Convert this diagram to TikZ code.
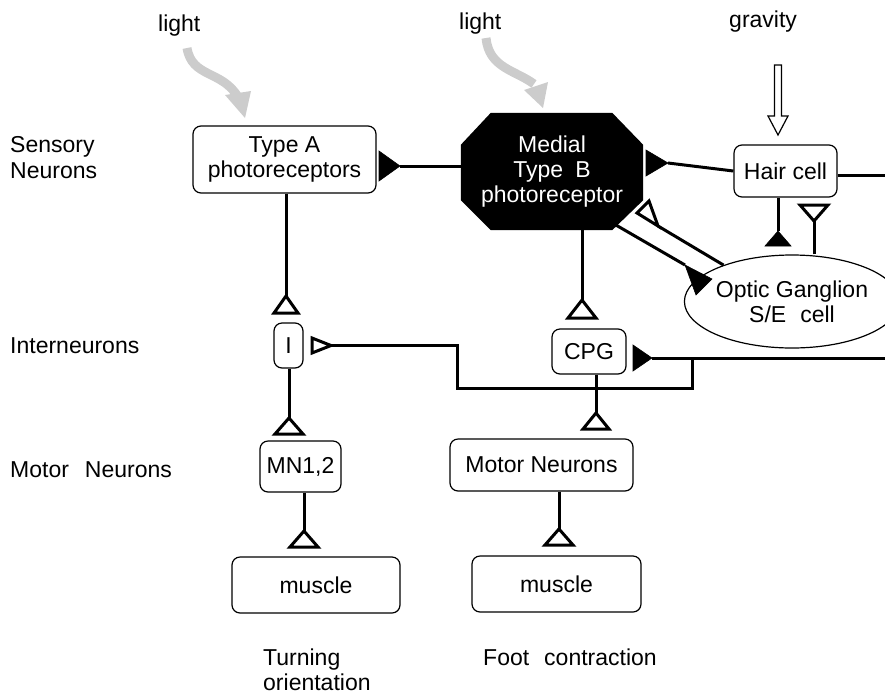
\documentclass[tikz,border=0pt]{standalone}
\usepackage{fontspec}
\setmainfont{Liberation Sans}
\usetikzlibrary{calc,backgrounds,shapes.geometric}
\newcommand\labfont{\fontsize{23pt}{25pt}\selectfont}
\tikzset{
  lbl/.style={font=\labfont, inner sep=0pt, anchor=base west},
  box/.style={draw, rounded corners=8pt, line width=1.2pt, inner sep=0pt, align=center, font=\labfont},
  conn/.style={line width=3pt},
  syn/.style={line width=3pt, line join=miter, fill=white},
  synf/.style={fill=black, draw=black, line width=0.6pt, line join=miter},
  lightband/.style={draw=gray!40, line width=9pt},
  lighthead/.style={fill=gray!40},
}
\begin{document}
\begin{tikzpicture}[x=1pt,y=-1pt]
\useasboundingbox (0,0) rectangle (885,694);

% ---- labels ----
\node[lbl] (light1) at (158,31) {light};
\node[lbl] (light2) at (459,29) {light};
\node[lbl] (grav) at (729,27.5) {gravity};
\node[lbl] (sens1) at (10,152) {Sensory};
\node[lbl] (sens2) at (10,178) {Neurons};
\node[lbl] (inter) at (10,353) {Interneurons};
\node[lbl] (motor) at (10,477) {Motor\hspace{16pt}Neurons};
\node[lbl] (turn1) at (263,665) {Turning};
\node[lbl] (turn2) at (263,690) {orientation};
\node[lbl] (foot) at (483,665) {Foot\hspace{15pt}contraction};

% ---- nodes ----
\node[box, minimum width=183pt, minimum height=67pt] (typeA) at (284.5,159.5) {Type A\\photoreceptors};
\node[inner sep=0pt, minimum width=182pt, minimum height=117pt, text=white, align=center, font=\labfont] (B) at (552,171.5) {Medial\\Type\hspace{12pt}B\\photoreceptor};
\begin{scope}[on background layer]
\fill[black] ($(B.north west)+(30,0)$) -- ($(B.north east)+(-31,0)$) -- ($(B.north east)+(0,32)$)
  -- ($(B.south east)+(0,-30)$) -- ($(B.south east)+(-31,0)$) -- ($(B.south west)+(30,0)$)
  -- ($(B.south west)+(0,-30)$) -- ($(B.north west)+(0,32)$) -- cycle;
\end{scope}
\node[box, minimum width=103pt, minimum height=52pt] (hair) at (785.5,171) {Hair cell};
\node[draw, ellipse, line width=1.2pt, inner sep=0pt, minimum width=170pt, minimum height=93pt, align=center, font=\labfont] (OG) at (792,301.5) {Optic Ganglion\\S/E\hspace{14pt}cell};
\node[box, minimum width=29pt, minimum height=45pt] (I) at (288.5,345.5) {I};
\node[box, minimum width=74pt, minimum height=45pt] (CPG) at (589,351.5) {CPG};
\node[box, minimum width=81pt, minimum height=51pt] (MN12) at (300.5,466.5) {MN1,2};
\node[box, minimum width=183pt, minimum height=52pt] (MN) at (541.5,465) {Motor Neurons};
\node[box, minimum width=168pt, minimum height=56pt] (mus1) at (316,585) {muscle};
\node[box, minimum width=169pt, minimum height=56pt] (mus2) at (556.5,584) {muscle};

% ---- light arrows ----
\coordinate (l1s) at (187,48);
\coordinate (l1e) at (238,97);
\draw[lightband] (l1s) .. controls (192,78) and (222,70) .. (l1e);
\fill[lighthead] (225,95) -- (251,91) -- (245,118) -- cycle;
\coordinate (l2s) at (486,38);
\coordinate (l2e) at (534,84);
\draw[lightband] (l2s) .. controls (489,68) and (515,70) .. (l2e);
\fill[lighthead] (524,90) -- (548,82) -- (543,108) -- cycle;

% ---- gravity arrow ----
\coordinate (gTip) at (778,135);
\draw[line width=1.2pt, fill=white] (gTip) -- ++(-10,-19) -- ++(6.5,0) -- ++(0,-51) -- ++(7,0)
  -- ++(0,51) -- ++(6.5,0) -- cycle;

% ---- B -> Type A (filled) ----
\coordinate (sA) at (400,166);
\draw[conn] (B.west |- sA) -- (sA);
\filldraw[synf] (sA) -- ++(-21,-15) -- ++(0,30) -- cycle;

% ---- B -> hair (filled) ----
\coordinate (pBH) at (668,163);
\draw[conn] (pBH) -- (hair.west);
\filldraw[synf] (pBH) -- ++(-22,-13) -- ++(0,26) -- cycle;

% ---- hair -> right edge ----
\coordinate (eH) at (885,175);
\draw[conn] ([yshift=-4pt]hair.east) -- (eH);

% ---- hair -> OG (filled) ----
\coordinate (pHO) at (778,231);
\draw[conn] (hair.south -| pHO) -- (pHO);
\filldraw[synf] (pHO) -- ++(-13,15) -- ++(26,0) -- cycle;

% ---- OG -> hair (open) ----
\coordinate (pOH) at (814,221);
\draw[conn] (pOH |- OG.north) -- (pOH);
\draw[syn] (pOH) -- ++(-14,-16) -- ++(28,0) -- cycle;

% ---- B -> OG (filled) ----
\coordinate (pBO) at (685,265);
\draw[conn] ($(B.south east)+(-27,-5)$) -- (pBO);
\filldraw[synf] (pBO) -- ++(27,14) -- ++(-16,16) -- cycle;

% ---- OG -> B (open) ----
\coordinate (pOB) at (658,226);
\draw[conn] (OG.152) -- (pOB);
\draw[syn] (pOB) -- (637,213) -- (649,201) -- cycle;

% ---- Type A -> I (open) ----
\coordinate (pAI) at (286,296);
\draw[conn] (typeA.south -| pAI) -- (pAI);
\draw[syn] (pAI) -- ++(-12,17) -- ++(24,0) -- cycle;

% ---- B -> CPG (open) ----
\coordinate (pBC) at (582,300);
\draw[conn] (B.south -| pBC) -- (pBC);
\draw[syn] (pBC) -- ++(-14,18) -- ++(28,0) -- cycle;

% ---- right edge -> CPG (filled) and -> I (open) ----
\coordinate (eC) at (885,358);
\coordinate (pCPG) at (652,358);
\draw[conn] (eC) -- (pCPG);
\filldraw[synf] (pCPG) -- ++(-19,-13) -- ++(0,26) -- cycle;
\coordinate (j1) at (692,358);
\coordinate (j2) at (457,388);
\coordinate (pI) at (331,345.5);
\draw[conn] (j1) |- (j2) |- (pI);
\draw[syn] (pI) -- ++(-19,-7.5) -- ++(0,15) -- cycle;

% ---- CPG -> Motor Neurons (open) ----
\coordinate (pCM) at (596,413);
\draw[conn] (CPG.south -| pCM) -- (pCM);
\draw[syn] (pCM) -- ++(-13,16) -- ++(26,0) -- cycle;

% ---- I -> MN1,2 (open) ----
\coordinate (pIM) at (289,418);
\draw[conn] (I.south -| pIM) -- (pIM);
\draw[syn] (pIM) -- ++(-14,16) -- ++(28,0) -- cycle;

% ---- MN1,2 -> muscle (open) ----
\coordinate (pM1) at (304,531);
\draw[conn] (MN12.south -| pM1) -- (pM1);
\draw[syn] (pM1) -- ++(-14,16) -- ++(28,0) -- cycle;

% ---- Motor Neurons -> muscle (open) ----
\coordinate (pM2) at (559,529);
\draw[conn] (MN.south -| pM2) -- (pM2);
\draw[syn] (pM2) -- ++(-14,16) -- ++(28,0) -- cycle;
\end{tikzpicture}
\end{document}
